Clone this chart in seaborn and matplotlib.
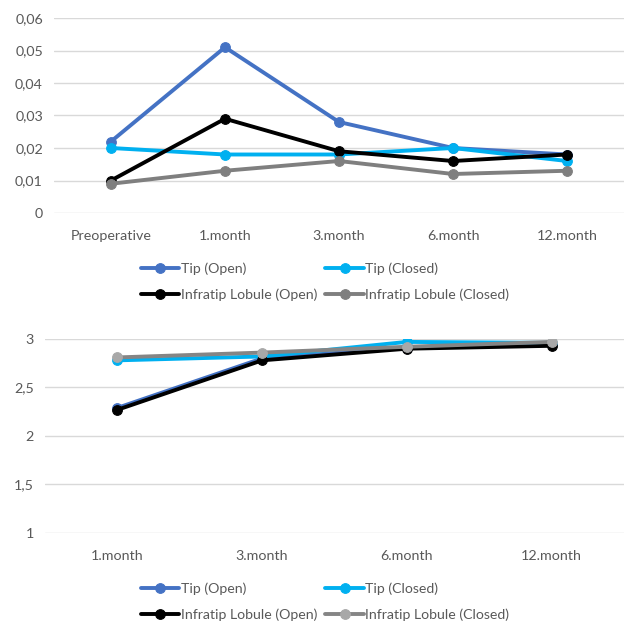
import matplotlib
matplotlib.use("Agg")
import matplotlib.pyplot as plt
import seaborn as sns
import pandas as pd
from matplotlib.ticker import FuncFormatter, MultipleLocator

# Panel 1: measurements from preoperative to 12 months
periods_top = ["Preoperative", "1.month", "3.month", "6.month", "12.month"]
tip_open_top = [0.022, 0.051, 0.028, 0.020, 0.018]
tip_closed_top = [0.020, 0.018, 0.018, 0.020, 0.016]
infratip_open_top = [0.010, 0.029, 0.019, 0.016, 0.018]
infratip_closed_top = [0.009, 0.013, 0.016, 0.012, 0.013]

# Panel 2: scores from 1 to 12 months
periods_bottom = ["1.month", "3.month", "6.month", "12.month"]
tip_open_bottom = [2.29, 2.80, 2.91, 2.95]
tip_closed_bottom = [2.78, 2.82, 2.97, 2.96]
infratip_open_bottom = [2.27, 2.78, 2.90, 2.93]
infratip_closed_bottom = [2.81, 2.86, 2.92, 2.97]

series_names = ["Tip (Open)", "Tip (Closed)", "Infratip Lobule (Open)", "Infratip Lobule (Closed)"]

sns.set_theme(style="white")
plt.rcParams["font.family"] = ["Lato", "DejaVu Sans"]
TEXT = "#595959"
GRID = "#D9D9D9"


def long_frame(periods, values):
    rows = []
    for name, vals in zip(series_names, values):
        for p, v in zip(periods, vals):
            rows.append({"period": p, "value": v, "series": name})
    return pd.DataFrame(rows)


def comma(x, _):
    s = f"{x:g}"
    return s.replace(".", ",")


def draw(ax, periods, values, line_colors, marker_colors, ylim, step, ypad_fmt):
    df = long_frame(periods, values)
    df["period"] = pd.Categorical(df["period"], categories=periods, ordered=True)
    df["x"] = df["period"].cat.codes
    for name, lc, mc in zip(series_names, line_colors, marker_colors):
        sub = df[df["series"] == name]
        sns.lineplot(data=sub, x="x", y="value", ax=ax, color=lc, linewidth=2.8,
                     marker="o", markersize=7, markerfacecolor=mc,
                     markeredgecolor=mc, label=name, legend=False)
    ax.set_xlim(-0.5, len(periods) - 0.5)
    ax.set_ylim(*ylim)
    ax.yaxis.set_major_locator(MultipleLocator(step))
    ax.yaxis.set_major_formatter(FuncFormatter(ypad_fmt))
    ax.set_xticks(range(len(periods)))
    ax.set_xticklabels(periods)
    ax.set_xlabel("")
    ax.set_ylabel("")
    ax.grid(axis="y", color=GRID, linewidth=1)
    ax.set_axisbelow(True)
    for s in ax.spines.values():
        s.set_visible(False)
    ax.tick_params(axis="both", length=0, labelsize=10.3, colors=TEXT, pad=8)
    ax.tick_params(axis="x", pad=12)
    for lab in ax.get_xticklabels() + ax.get_yticklabels():
        lab.set_color(TEXT)


W, H = 624, 623
fig = plt.figure(figsize=(W / 100, H / 100), dpi=100)

ax1 = fig.add_axes([54 / W, (H - 213) / H, (624 - 54) / W, (213 - 18) / H])
colors_top = ["#4472C4", "#00B0F0", "#000000", "#7F7F7F"]
draw(ax1, periods_top,
     [tip_open_top, tip_closed_top, infratip_open_top, infratip_closed_top],
     colors_top, colors_top, (0, 0.06), 0.01, comma)

ax2 = fig.add_axes([45 / W, (H - 533) / H, (624 - 45) / W, (533 - 339) / H])
lines_bottom = ["#4472C4", "#00B0F0", "#000000", "#858585"]
markers_bottom = ["#4472C4", "#00B0F0", "#000000", "#A8A8A8"]
draw(ax2, periods_bottom,
     [tip_open_bottom, tip_closed_bottom, infratip_open_bottom, infratip_closed_bottom],
     lines_bottom, markers_bottom, (1, 3), 0.5, comma)

# Legends laid out row by row: two series per row
order = [0, 2, 1, 3]
for ax, y in [(ax1, 282), (ax2, 602)]:
    handles, labels = ax.get_legend_handles_labels()
    leg = ax.legend([handles[i] for i in order], [labels[i] for i in order],
                    loc="center", ncol=2, frameon=False, fontsize=10.2,
                    handlelength=2.7, handletextpad=0.1, columnspacing=0.6,
                    labelspacing=0.95)
    leg.set_bbox_to_anchor((325 / W, (H - y) / H), transform=fig.transFigure)
    for t in leg.get_texts():
        t.set_color(TEXT)

fig.savefig("out.png", dpi=100)
